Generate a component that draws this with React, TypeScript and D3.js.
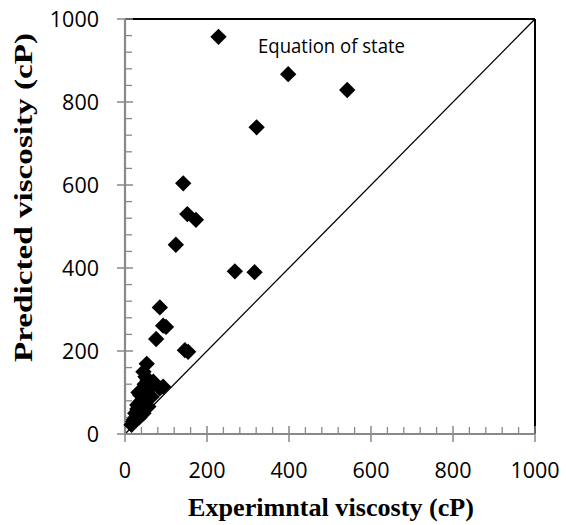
import React from "react";
import * as d3 from "d3";

// Experimental vs. predicted viscosity (cP), equation-of-state model
const experimental = [228, 398, 542, 321, 142, 152, 173, 124, 268, 316, 85, 93, 100, 76, 146, 154, 53, 50, 69, 93, 37, 57, 28, 16, 45, 40, 30, 22, 60, 35, 25, 85, 48, 33, 42, 55, 65, 30, 20, 45, 35];
const predicted = [957, 867, 829, 739, 604, 530, 516, 456, 392, 390, 305, 261, 258, 229, 202, 198, 169, 138, 126, 114, 94, 66, 42, 22, 150, 80, 60, 35, 110, 75, 50, 110, 120, 100, 105, 130, 90, 70, 30, 50, 40];

const majorTicks = [0, 200, 400, 600, 800, 1000];
const minorTicks = d3.range(0, 1001, 40).filter((v) => v % 200 !== 0);

const xTitle = "Experimntal viscosty (cP)";
const yTitle = "Predicted viscosity (cP)";
const seriesLabel = "Equation of state";

const W = 566;
const H = 525;

export default function App() {
  const x = d3.scaleLinear().domain([0, 1000]).range([125, 535]);
  const y = d3.scaleLinear().domain([0, 1000]).range([434, 19]);
  const axisColor = "#898989";
  const diamond = d3.symbol().type(d3.symbolDiamond2).size(170)();
  const tickFont = "'Open Sans', Lato, sans-serif";
  const titleFont = "'Liberation Serif', 'Times New Roman', serif";

  return (
    <svg
      width={W}
      height={H}
      style={{ position: "absolute", left: 0, top: 0, background: "#fff" }}
    >
      {/* frame: top and right edges */}
      <line x1={x(0)} x2={x(1000)} y1={y(1000)} y2={y(1000)} stroke="#000" strokeWidth={2} />
      <line x1={x(1000)} x2={x(1000)} y1={y(1000)} y2={y(0)} stroke="#000" strokeWidth={2} />

      {/* parity line */}
      <line x1={x(0)} y1={y(0)} x2={x(1000)} y2={y(1000)} stroke="#000" strokeWidth={1.3} />

      {/* axes */}
      <line x1={x(0)} x2={x(0)} y1={y(0)} y2={y(1000)} stroke={axisColor} strokeWidth={2.2} />
      <line x1={x(0)} x2={x(1000)} y1={y(0)} y2={y(0)} stroke={axisColor} strokeWidth={2.2} />

      {minorTicks.map((v) => (
        <g key={"mn" + v}>
          <line x1={x(0)} x2={x(0) + 7} y1={y(v)} y2={y(v)} stroke={axisColor} strokeWidth={1.3} />
          <line x1={x(v)} x2={x(v)} y1={y(0)} y2={y(0) - 7} stroke={axisColor} strokeWidth={1.3} />
        </g>
      ))}
      {majorTicks.map((v) => (
        <g key={"mj" + v}>
          <line x1={x(0) - 8} x2={x(0) + 8} y1={y(v)} y2={y(v)} stroke={axisColor} strokeWidth={1.5} />
          <line x1={x(v)} x2={x(v)} y1={y(0) - 8} y2={y(0) + 8} stroke={axisColor} strokeWidth={1.5} />
          <text
            x={99}
            y={y(v)}
            dy="0.36em"
            textAnchor="end"
            fontFamily={tickFont}
            fontSize={21.5}
            fill="#000"
          >
            {v}
          </text>
          <text
            x={x(v)}
            y={478}
            textAnchor="middle"
            fontFamily={tickFont}
            fontSize={21.5}
            fill="#000"
          >
            {v}
          </text>
        </g>
      ))}

      {/* data points */}
      {experimental.map((ev, i) => (
        <path
          key={"p" + i}
          d={diamond}
          transform={`translate(${x(ev)},${y(predicted[i])})`}
          fill="#000"
        />
      ))}

      <text
        x={258}
        y={52.5}
        fontFamily={tickFont}
        fontSize={19.5}
        textLength={147}
        lengthAdjust="spacingAndGlyphs"
        fill="#000"
      >
        {seriesLabel}
      </text>

      <text
        x={188}
        y={516}
        fontFamily={titleFont}
        fontWeight="bold"
        fontSize={24.5}
        textLength={286}
        lengthAdjust="spacingAndGlyphs"
        fill="#000"
      >
        {xTitle}
      </text>
      <text
        transform="translate(32,362) rotate(-90)"
        fontFamily={titleFont}
        fontWeight="bold"
        fontSize={24.5}
        textLength={329}
        lengthAdjust="spacingAndGlyphs"
        fill="#000"
      >
        {yTitle}
      </text>
    </svg>
  );
}
